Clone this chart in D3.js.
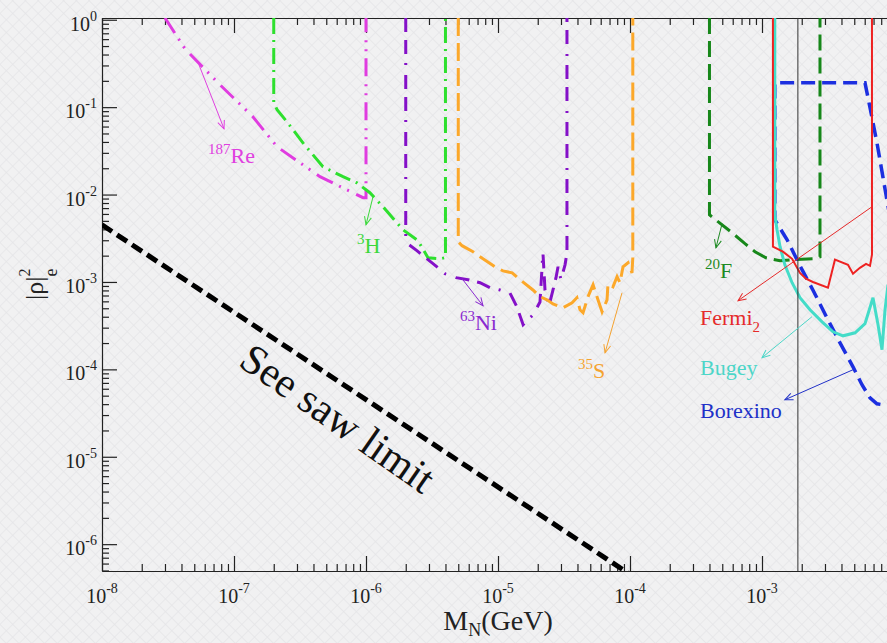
<!DOCTYPE html>
<html>
<head>
<meta charset="utf-8">
<title></title>
<script src="https://cdn.jsdelivr.net/npm/d3@7"></script>
<style>
body{margin:0;background:#f0f0f1;}
text{font-family:"Liberation Serif","Times New Roman",serif;}
</style>
<script>
// tick labels (powers of ten)
const xMajor=[1e-8,1e-7,1e-6,1e-5,1e-4,1e-3,1e-2];
const xExp=['-8','-7','-6','-5','-4','-3','-2'];
const yMajor=[1,1e-1,1e-2,1e-3,1e-4,1e-5,1e-6];
const yExp=['0','-1','-2','-3','-4','-5','-6'];

// curves [M_N (GeV), |rho_e|^2]
const seesaw=[[1e-8,4.5e-3],[1.05e-4,4.3e-7]];
const re187=[[3.0e-8,1.05],[4.25e-8,0.466],[7.56e-8,0.19],[1.39e-7,0.0777],[2.12e-7,0.0352],[4.48e-7,0.016],[9.5e-7,9.2e-3],[1e-6,9.2e-3],[1e-6,1.05]];
const h3=[[2e-7,1.05],[2e-7,0.112],[2.12e-7,0.0935],[2.52e-7,0.068],[3.33e-7,0.039],[4.72e-7,0.0208],[6.7e-7,0.016],[8.55e-7,0.0136],[1.07e-6,0.0105],[1.35e-6,7.2e-3],[1.91e-6,3.95e-3],[2.48e-6,2.96e-3],[2.95e-6,1.89e-3],[3.64e-6,1.84e-3],[4e-6,1.9e-3],[4e-6,1.05]];
const ni63=[[2e-6,1.05],[2e-6,3.2e-3],[2.12e-6,2.67e-3],[2.43e-6,2.28e-3],[2.95e-6,1.8e-3],[3.45e-6,1.49e-3],[3.97e-6,1.24e-3],[4.81e-6,1.12e-3],[5.93e-6,1.06e-3],[7.31e-6,9.8e-4],[8.69e-6,8.6e-4],[1.035e-5,8.1e-4],[1.23e-5,7.5e-4],[1.39e-5,5.2e-4],[1.55e-5,3.24e-4],[1.84e-5,4.2e-4],[2.08e-5,5.9e-4],[2.19e-5,2.16e-3],[2.27e-5,8.1e-4],[2.43e-5,5.3e-4],[2.61e-5,8.1e-4],[2.75e-5,1.12e-3],[2.85e-5,1.49e-3],[3.0e-5,1.06e-3],[3.22e-5,1.57e-3],[3.33e-5,2.16e-3],[3.33e-5,1.05]];
const s35=[[5e-6,1.05],[5e-6,2.88e-3],[5.34e-6,2.6e-3],[6.47e-6,2.22e-3],[7.7e-6,1.84e-3],[9.49e-6,1.49e-3],[1.09e-5,1.34e-3],[1.28e-5,1.27e-3],[1.47e-5,1.06e-3],[1.84e-5,8.1e-4],[2.08e-5,6.8e-4],[2.35e-5,6.25e-4],[2.61e-5,5.6e-4],[3.11e-5,5.07e-4],[3.64e-5,5.78e-4],[3.96e-5,6.6e-4],[4.18e-5,4.8e-4],[4.41e-5,4.44e-4],[4.81e-5,6.8e-4],[5.25e-5,9.3e-4],[5.72e-5,6.25e-4],[6.14e-5,4.56e-4],[6.7e-5,6.25e-4],[6.81e-5,9.5e-4],[7.43e-5,8.8e-4],[7.98e-5,1.15e-3],[8.4e-5,9.8e-4],[8.85e-5,1.49e-3],[9.66e-5,1.66e-3],[1.035e-4,1.27e-3],[1.05e-4,1.89e-3],[1.05e-4,1.05]];
const f20=[[4e-4,1.05],[4e-4,5.87e-3],[4.64e-4,4.89e-3],[5.93e-4,3.66e-3],[7.43e-4,2.74e-3],[8.85e-4,2.22e-3],[1.07e-3,1.89e-3],[1.37e-3,1.75e-3],[1.78e-3,1.8e-3],[2.43e-3,1.84e-3],[2.75e-3,1.94e-3],[2.75e-3,1.05]];
const fermi2=[[1.21e-3,1.05],[1.21e-3,2.53e-3],[1.44e-3,2.22e-3],[1.69e-3,1.84e-3],[1.94e-3,1.27e-3],[2.15e-3,1.09e-3],[2.43e-3,1.0e-3],[3.16e-3,8.6e-4],[3.57e-3,1.8e-3],[4.48e-3,1.57e-3],[4.89e-3,1.24e-3],[5.52e-3,1.45e-3],[6.14e-3,1.61e-3],[6.58e-3,1.53e-3],[6.81e-3,2.05e-3],[6.81e-3,1.05]];
const bugey=[[1.25e-3,1.05],[1.25e-3,5.87e-3],[1.30e-3,3.96e-3],[1.37e-3,2.53e-3],[1.49e-3,1.57e-3],[1.69e-3,9.8e-4],[1.94e-3,6.6e-4],[2.31e-3,4.8e-4],[2.85e-3,3.5e-4],[3.45e-3,2.69e-4],[4.11e-3,2.42e-4],[5.07e-3,2.62e-4],[6.03e-3,3.33e-4],[6.93e-3,6.6e-4],[7.57e-3,3.24e-4],[8.11e-3,1.68e-4],[8.55e-3,4.8e-4],[9.01e-3,9.3e-4]];
const borexino=[[1e-2,3e-3],[8.26e-3,1.56e-2],[7.43e-3,3.91e-2],[6.58e-3,9.85e-2],[6.03e-3,0.19],[1.25e-3,0.19],[1.25e-3,5.15e-3],[1.55e-3,3.04e-3],[1.94e-3,1.53e-3],[2.43e-3,8.1e-4],[3.1e-3,3.9e-4],[3.9e-3,2.01e-4],[4.89e-3,1.07e-4],[5.72e-3,6.67e-5],[6.58e-3,4.73e-5],[7.43e-3,4.04e-5],[1e-2,3.73e-5]];
const markerMass=1.87e-3;

// annotations: label text, label anchor, arrow from -> to
const labelNames=['Re','H','Ni','S','F','Fermi','Bugey','Borexino'];
const labelSup=['187','3','63','35','20','','',''];
const labelSub=['','','','','','2','',''];
const labelAt=[[6.35e-8,0.0231],[8.55e-7,2.16e-3],[5.15e-6,2.84e-4],[4.04e-5,8.0e-5],[3.7e-4,1.12e-3],[3.39e-4,3.24e-4],[3.39e-4,8.67e-5],[3.39e-4,2.79e-5]];
const arrowFrom=[[5.43e-8,0.305],[1.13e-6,9.44e-3],[5.34e-6,1.09e-3],[8.7e-5,7.52e-4],[4.98e-4,4.63e-3],[6.81e-3,7.25e-3],[2.39e-3,4.0e-4],[4.89e-3,9.9e-5]];
const arrowTo=[[8.4e-8,0.0566],[1.0e-6,4.51e-3],[7.7e-6,5.34e-4],[6.47e-5,1.55e-4],[4.48e-4,2.46e-3],[6.58e-4,6.1e-4],[1.0e-3,1.36e-4],[1.49e-3,4.49e-5]];
const seesawText='See saw limit';
const seesawAt=[6.14e-7,2.79e-5];

window.onload=function (){
  const W=887,H=643;
  let svg=d3.select('body').append('svg').attr('width',W).attr('height',H);
  let defs=svg.append('defs');

  //背景纹理
  let pat=defs.append('pattern').attr('id','bg').attr('width',9).attr('height',9)
    .attr('patternUnits','userSpaceOnUse').attr('patternTransform','rotate(45)');
  pat.append('rect').attr('width',9).attr('height',9).attr('fill','#f1f1f2');
  pat.append('path').attr('d','M0,0H9M0,0V9').attr('stroke','#e4e4e7').attr('stroke-width',1.3);
  svg.append('rect').attr('width',W).attr('height',H).attr('fill','url(#bg)');

  let x=d3.scaleLog().domain([1e-8,1e-2]).range([102,894]);
  let y=d3.scaleLog().domain([Math.pow(10,-6.307),Math.pow(10,0.02)]).range([571,18]);

  defs.append('clipPath').attr('id','clip').append('rect')
    .attr('x',102).attr('y',18).attr('width',792).attr('height',553);

  //1.坐标轴
  let isMajor=v=>Math.abs(Math.log10(v)-Math.round(Math.log10(v)))<1e-9;
  let minX=x.ticks().filter(v=>!isMajor(v));
  let minY=y.ticks().filter(v=>!isMajor(v));

  function styleAxis(g){
    g.selectAll('path,line').attr('stroke','#222').attr('stroke-width',1.2);
  }
  let axes=[
    [d3.axisBottom(x),'translate(0,571)',minX,xMajor],
    [d3.axisTop(x),'translate(0,18)',minX,xMajor],
    [d3.axisLeft(y),'translate(102,0)',minY,yMajor]
  ];
  axes.forEach(a=>{
    svg.append('g').attr('transform',a[1])
      .call(a[0].tickValues(a[2]).tickSize(-7).tickSizeOuter(0).tickFormat(''))
      .call(styleAxis);
    let g2=svg.append('g').attr('transform',a[1])
      .call(a[0].tickValues(a[3]).tickSize(-15).tickSizeOuter(0).tickFormat(''))
      .call(styleAxis);
    g2.select('.domain').remove();
  });

  //刻度文字 (只画图内可见的)
  xMajor.forEach((v,i)=>{
    if(x(v)>W-20) return;
    let t=svg.append('text').attr('x',x(v)).attr('y',603).attr('text-anchor','middle')
      .attr('font-size',20).attr('fill','#222');
    t.append('tspan').text('10');
    t.append('tspan').attr('dy',-10).attr('font-size',14).text(xExp[i]);
  });
  yMajor.forEach((v,i)=>{
    let t=svg.append('text').attr('x',97).attr('y',y(v)+11).attr('text-anchor','end')
      .attr('font-size',20).attr('fill','#222');
    t.append('tspan').text('10');
    t.append('tspan').attr('dy',-10).attr('font-size',14).text(yExp[i]);
  });

  //轴标题
  let xt=svg.append('text').attr('x',498).attr('y',630).attr('text-anchor','middle')
    .attr('font-size',28).attr('fill','#222');
  xt.append('tspan').text('M');
  xt.append('tspan').attr('dy',6).attr('font-size',18).text('N');
  xt.append('tspan').attr('dy',-6).text('(GeV)');

  let yt=svg.append('text').attr('transform','translate(43,300) rotate(-90)')
    .attr('font-size',26).attr('fill','#222');
  yt.append('tspan').text('|ρ|');
  yt.append('tspan').attr('dy',-13).attr('font-size',16).text('2');
  yt.append('tspan').attr('dx',-8).attr('dy',27).attr('font-size',18).text('e');

  //2.曲线
  let plot=svg.append('g').attr('clip-path','url(#clip)');
  let line=d3.line().x(d=>x(d[0])).y(d=>y(d[1]));

  let curves=[
    {d:seesaw,c:'#000',w:5,dash:'12,6'},
    {d:re187,c:'#e03ce0',w:3,dash:'18,7,2,7,2,8'},
    {d:h3,c:'#2ee02e',w:3,dash:'16,6,2,6'},
    {d:ni63,c:'#8410c8',w:3,dash:'14,8,14,9,2,10'},
    {d:s35,c:'#fca82a',w:3,dash:'18,7'},
    {d:f20,c:'#17871a',w:3,dash:'16,7'},
    {d:borexino,c:'#1c2fe0',w:3.5,dash:'14,7'},
    {d:bugey,c:'#44dcc8',w:3,dash:null},
    {d:fermi2,c:'#ee2222',w:2,dash:null}
  ];
  curves.forEach(cv=>{
    plot.append('path').datum(cv.d).attr('d',line)
      .attr('fill','none').attr('stroke',cv.c).attr('stroke-width',cv.w)
      .attr('stroke-dasharray',cv.dash);
  });

  plot.append('line').attr('x1',x(markerMass)).attr('x2',x(markerMass))
    .attr('y1',18).attr('y2',571).attr('stroke','#333').attr('stroke-width',1);

  //3.标注
  let labelColor=['#e040e0','#3ad83a','#8a2ad0','#f5a330','#1d8a22','#e52a2a','#4cd6c8','#2030c8'];
  labelNames.forEach((n,i)=>{
    let c=labelColor[i];
    defs.append('marker').attr('id','arr'+i).attr('viewBox','-10 -5 12 10')
      .attr('refX',0).attr('refY',0).attr('markerWidth',12).attr('markerHeight',10)
      .attr('markerUnits','userSpaceOnUse').attr('orient','auto')
      .append('path').attr('d','M-8,-3.5L0,0L-8,3.5').attr('fill','none')
      .attr('stroke',c).attr('stroke-width',1);
    svg.append('line')
      .attr('x1',x(arrowFrom[i][0])).attr('y1',y(arrowFrom[i][1]))
      .attr('x2',x(arrowTo[i][0])).attr('y2',y(arrowTo[i][1]))
      .attr('stroke',c).attr('stroke-width',1).attr('marker-end','url(#arr'+i+')');

    let t=svg.append('text').attr('x',x(labelAt[i][0])).attr('y',y(labelAt[i][1]))
      .attr('font-size',22).attr('fill',c);
    if(labelSup[i]){
      t.append('tspan').attr('dy',-9).attr('font-size',15).text(labelSup[i]);
      t.append('tspan').attr('dy',9).text(n);
    }else{
      t.append('tspan').text(n);
    }
    if(labelSub[i]) t.append('tspan').attr('dy',7).attr('font-size',15).text(labelSub[i]);
  });

  svg.append('text')
    .attr('transform',`translate(${x(seesawAt[0])},${y(seesawAt[1])}) rotate(35)`)
    .attr('text-anchor','middle').attr('dy','0.35em')
    .attr('font-size',42).attr('fill','#111').text(seesawText);
};
</script>
</head>
<body>
</body>
</html>
